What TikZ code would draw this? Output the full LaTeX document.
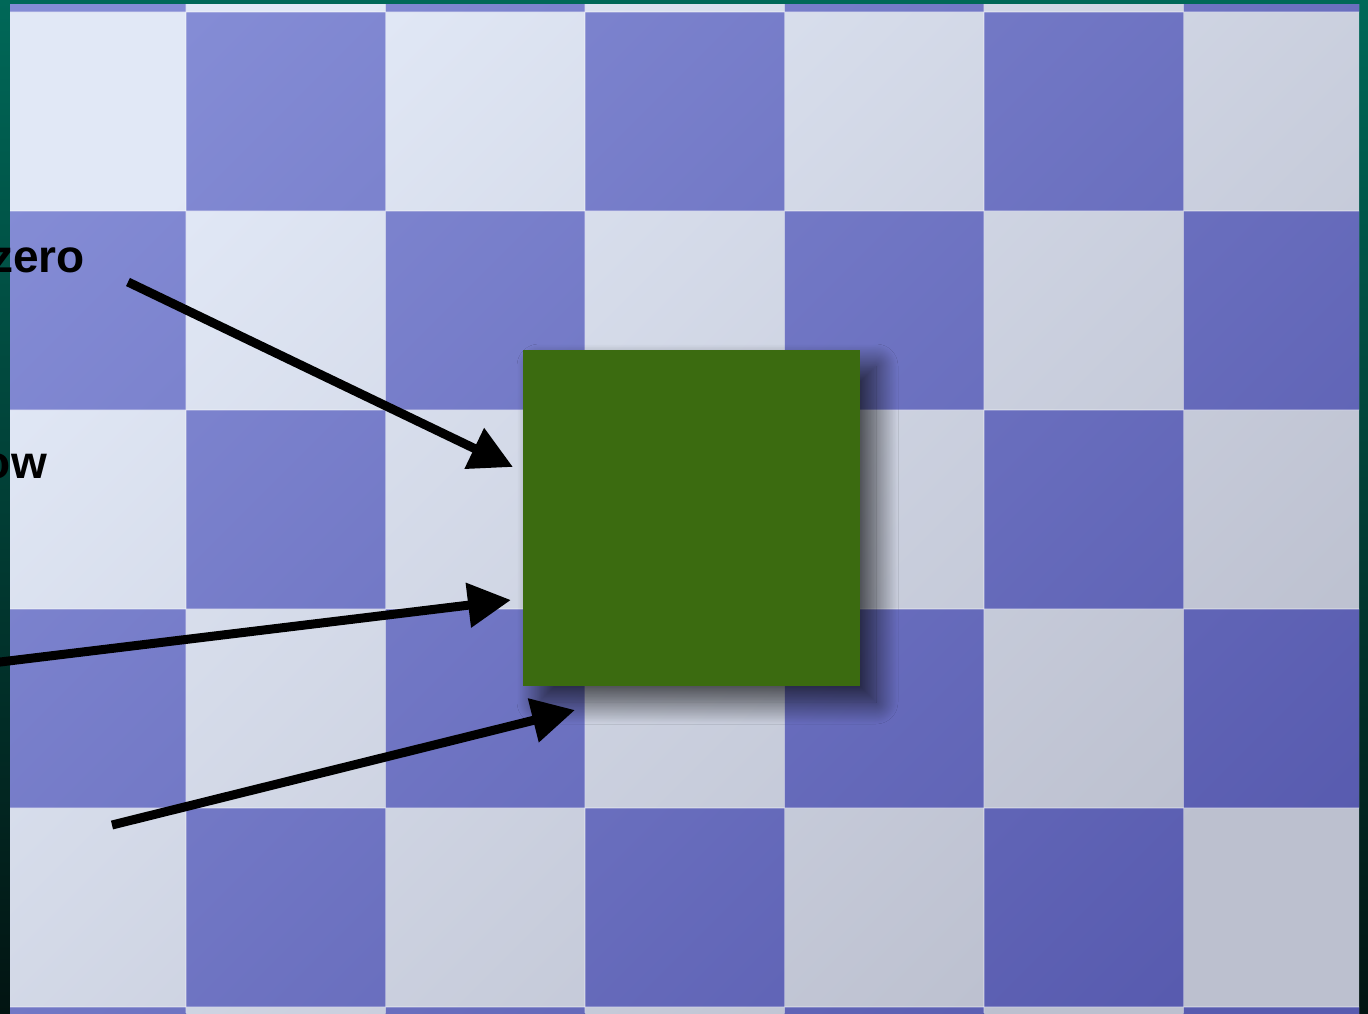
\documentclass[tikz,border=0pt]{standalone}
\usepackage{fontspec}
\setmainfont{Liberation Sans}
\usetikzlibrary{arrows.meta,shadows.blur}
\definecolor{tealtop}{RGB}{0,104,88}
\definecolor{tealbot}{RGB}{2,20,18}
\definecolor{lightA}{RGB}{225,232,246}
\definecolor{lightB}{RGB}{188,192,207}
\definecolor{darkA}{RGB}{132,140,213}
\definecolor{darkB}{RGB}{88,91,175}
\definecolor{boxgreen}{RGB}{59,107,16}
\begin{document}
\begin{tikzpicture}[x=1pt,y=-1pt,
  lbl/.style={font=\bfseries\fontsize{46}{50}\selectfont, inner sep=0pt, text=black},
  pointer/.style={line width=9pt, -{Triangle[length=43pt,width=43pt]}},
  greenbox/.style={fill=boxgreen, minimum width=337pt, minimum height=336pt, inner sep=0pt,
    blur shadow={shadow xshift=16pt, shadow yshift=-16pt, shadow blur radius=22pt,
      shadow blur steps=30, shadow opacity=70}}]
\useasboundingbox (0,0) rectangle (1368,1013);
\shade[top color=tealtop, bottom color=tealbot] (0,0) rectangle (1368,1013);
\begin{scope}
\clip (10,4) rectangle (1359,1013);
\shade[top color=lightA, bottom color=lightB, shading angle=45] (10,4) rectangle (1359,1013);
\shade[top color=darkA, bottom color=darkB, shading angle=45]
  \foreach \r in {-1,1,3,5} { \foreach \c in {0,2,4,6} {
    (-13.5+199.5*\c, 12+199*\r) rectangle ++(199.5,199) } }
  \foreach \r in {0,2,4} { \foreach \c in {1,3,5} {
    (-13.5+199.5*\c, 12+199*\r) rectangle ++(199.5,199) } };
\foreach \k in {1,...,6} \draw[white, opacity=0.25, line width=1.5pt] (-13.5+199.5*\k, 0) -- ++(0,1013);
\foreach \k in {0,...,5} \draw[white, opacity=0.25, line width=1.5pt] (0, 12+199*\k) -- ++(1368,0);
\end{scope}
\node[greenbox] (box) at (691.5,518) {};
\node[lbl, anchor=base east] (t1) at (85,272) {zero};
\node[lbl, anchor=base east] (t2) at (47,478) {ow};
\coordinate (a1s) at (128,282);
\coordinate (a1e) at (513,467);
\coordinate (a2s) at (-4,662.5);
\coordinate (a2e) at (511,600);
\coordinate (a3s) at (112,825);
\coordinate (a3e) at (575,710);
\draw[pointer] (a1s) -- (a1e);
\draw[pointer] (a2s) -- (a2e);
\draw[pointer] (a3s) -- (a3e);
\end{tikzpicture}
\end{document}
